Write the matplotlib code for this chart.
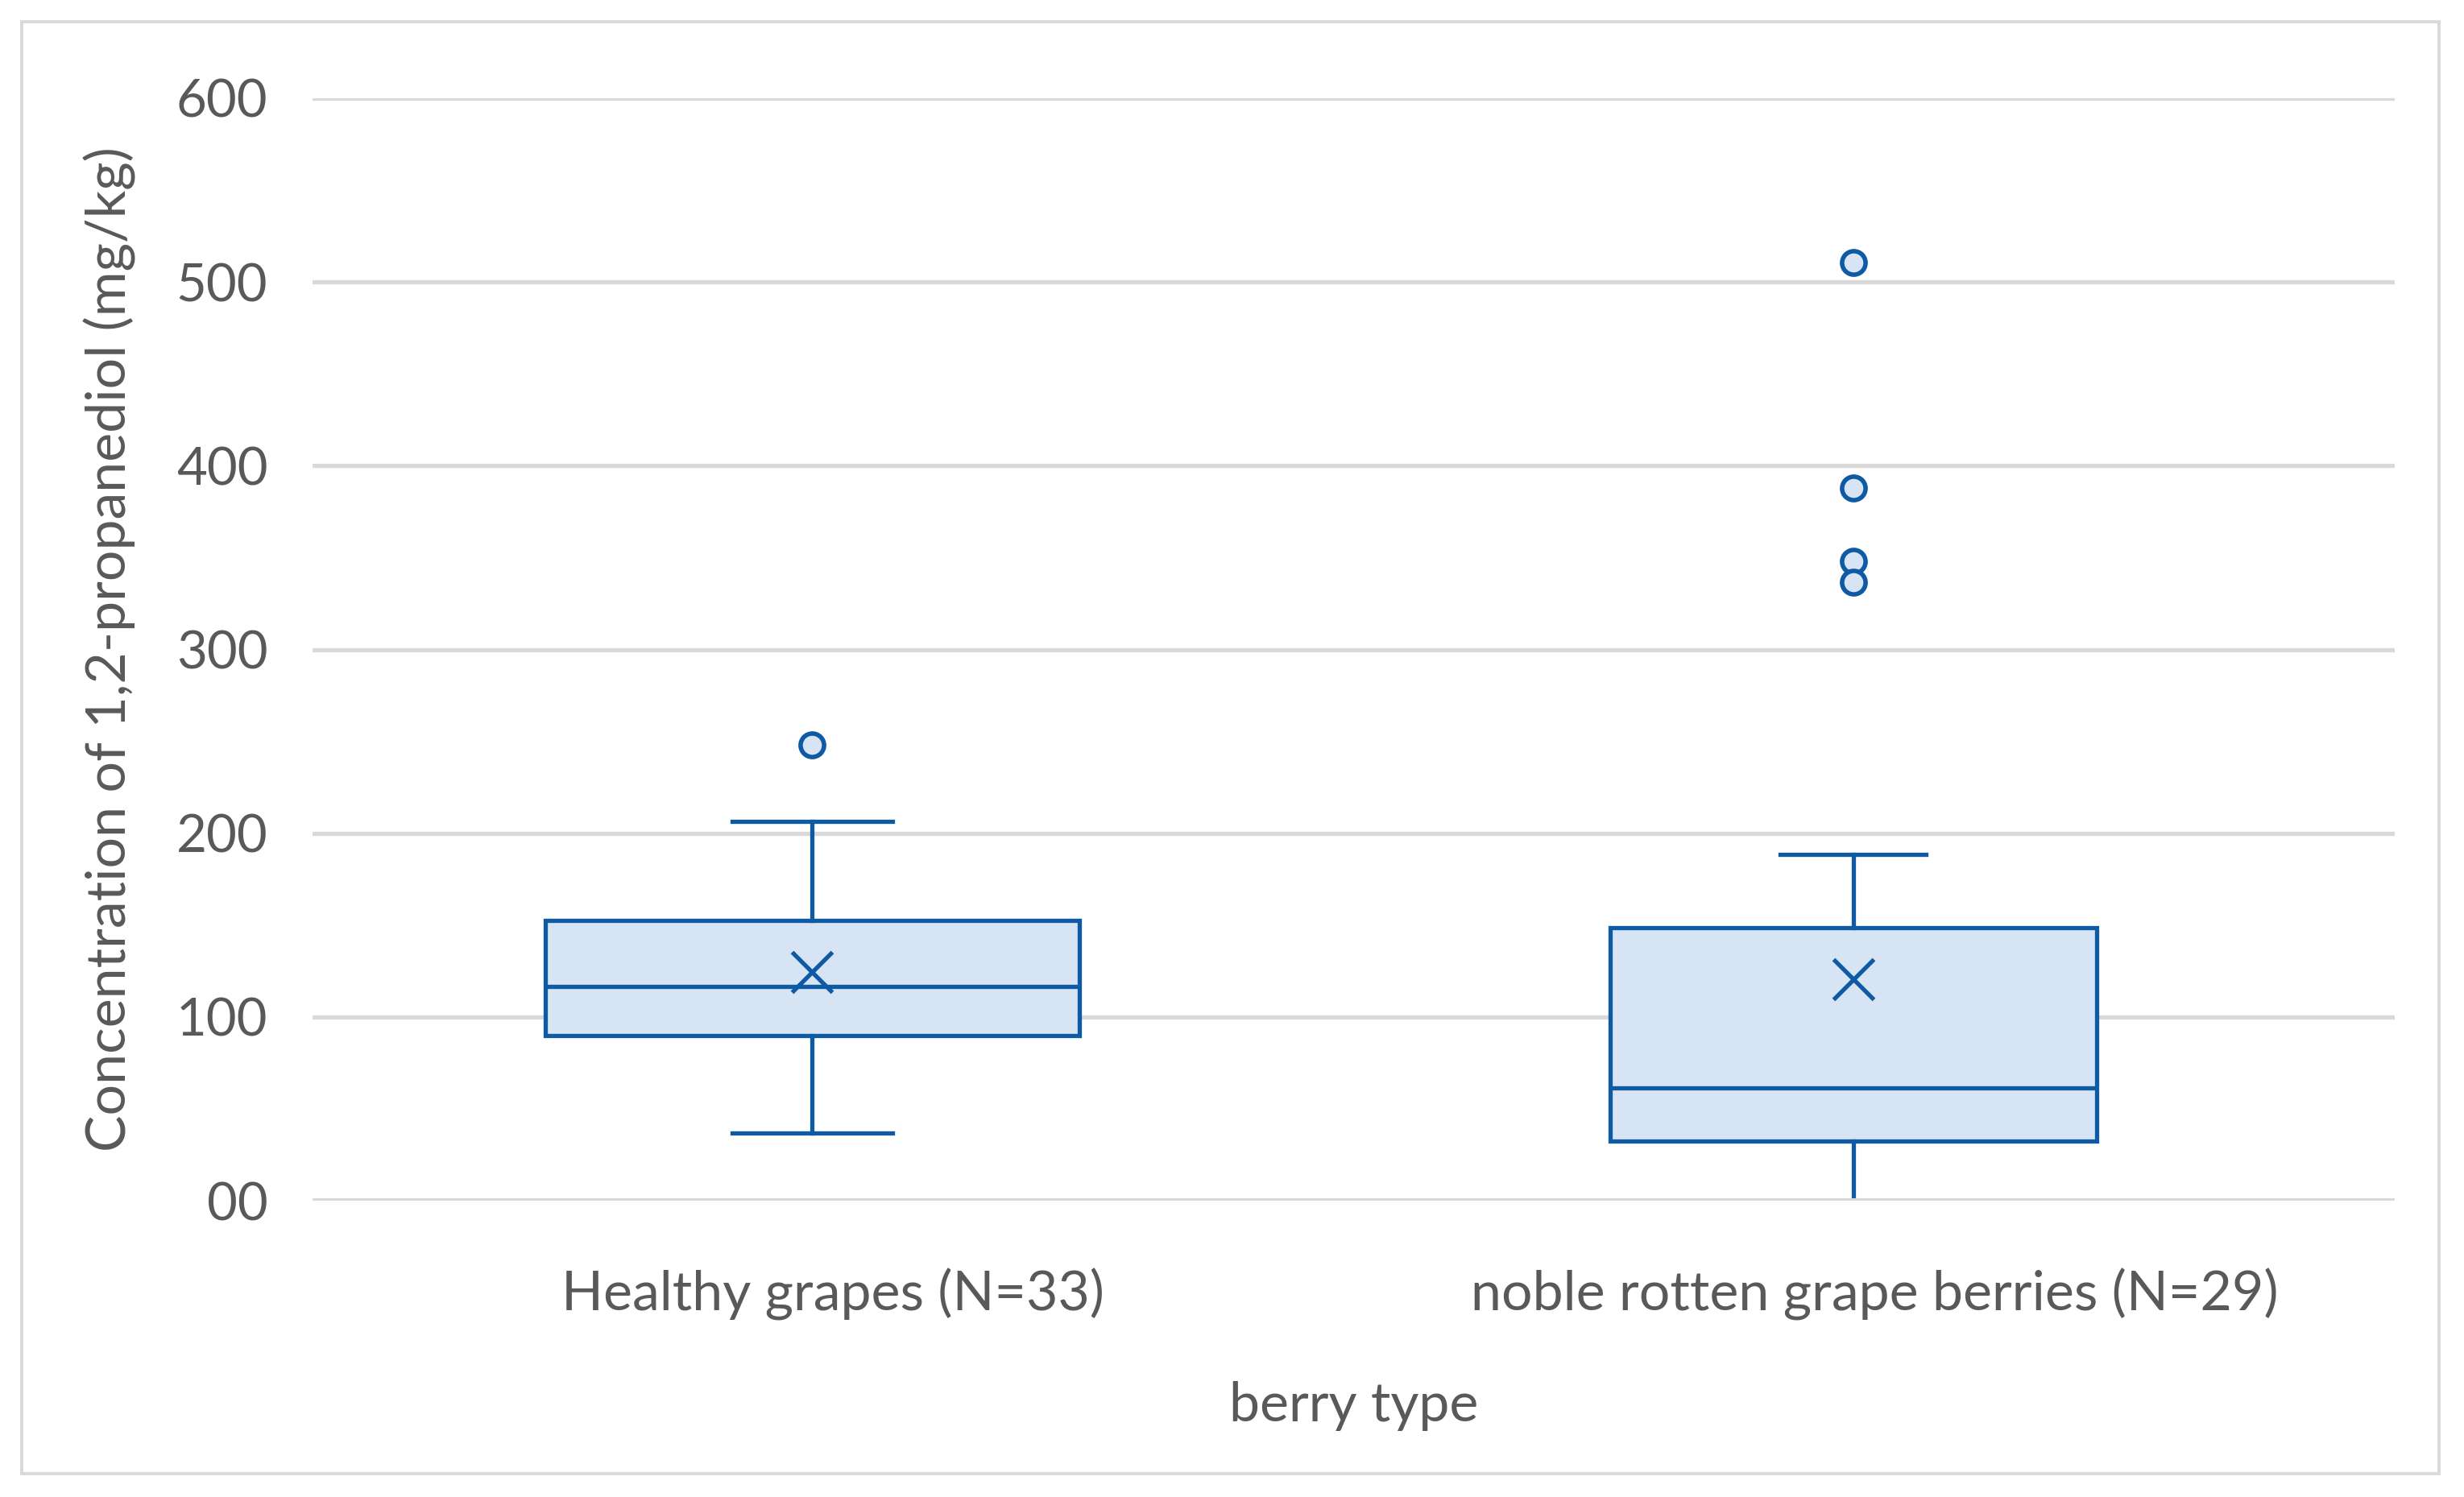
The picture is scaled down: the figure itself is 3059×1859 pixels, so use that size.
import matplotlib
matplotlib.use("Agg")
import matplotlib.pyplot as plt
from matplotlib.patches import Rectangle

categories = ["Healthy grapes (N=33)", "noble rotten grape berries (N=29)"]
medians = [116.5, 61.3]
q1s = [89.9, 32.4]
q3s = [152.5, 148.4]
whis_lo = [36.7, 0.0]
whis_hi = [206.6, 188.6]
means = [124.6, 120.5]
outliers = [[248.0], [510.7, 388.0, 348.0, 336.7]]
yticks = [0, 100, 200, 300, 400, 500, 600]
ytick_labels = ["00", "100", "200", "300", "400", "500", "600"]

EDGE = "#0F5AA4"
FILL = "#D7E4F4"
GRID = "#D9D9D9"
TXT = "#595959"

plt.rcParams['font.family'] = ['Lato', 'DejaVu Sans']

fig = plt.figure(figsize=(15.295, 9.295), dpi=200)
ax = fig.add_axes([388/3059, 1 - 1491/1859, (2973-388)/3059, (1491-122)/1859])

stats = []
for i in range(len(categories)):
    stats.append(dict(med=medians[i], q1=q1s[i], q3=q3s[i], whislo=whis_lo[i],
                      whishi=whis_hi[i], mean=means[i], fliers=outliers[i]))

positions = [0.48, 1.48]
widths = [0.513, 0.467]
lw = 1.9
ax.bxp(stats, positions=positions, widths=widths, capwidths=[w*0.3 for w in widths],
       showmeans=True, patch_artist=True,
       boxprops=dict(facecolor=FILL, edgecolor=EDGE, linewidth=lw),
       medianprops=dict(color=EDGE, linewidth=lw),
       whiskerprops=dict(color=EDGE, linewidth=lw),
       capprops=dict(color=EDGE, linewidth=lw),
       meanprops=dict(marker='x', markeredgecolor=EDGE, markersize=18, markeredgewidth=lw),
       flierprops=dict(marker='o', markerfacecolor=FILL, markeredgecolor=EDGE,
                       markersize=10.5, markeredgewidth=2.0),
       zorder=3)

ax.set_xlim(0, 2)
ax.set_ylim(0, 600)
ax.set_xticks([0.5, 1.5])
ax.set_xticklabels(categories)
ax.set_yticks(yticks)
ax.set_yticklabels(ytick_labels)
ax.tick_params(axis='y', length=0, labelsize=23.5, colors=TXT, pad=20)
ax.tick_params(axis='x', length=0, labelsize=24.5, colors=TXT, pad=30)
ax.grid(axis='y', color=GRID, linewidth=1.9, zorder=0)
ax.set_axisbelow(True)
for s in ax.spines.values():
    s.set_visible(False)
# horizontal category axis line drawn on top (as in the reference)
ax.axhline(0, color=GRID, linewidth=2.2, zorder=5)

ax.set_ylabel("Concentration of 1,2-propanediol (mg/kg)", fontsize=24.5, color=TXT, labelpad=18)
ax.set_xlabel("berry type", fontsize=24.5, color=TXT, labelpad=27)

fig.patches.append(Rectangle((27/3059, 1 - 1830/1859), (3028-27)/3059, (1830-27)/1859,
                             transform=fig.transFigure, fill=False, edgecolor=GRID,
                             linewidth=1.4, zorder=0))

fig.savefig("out.png", dpi=200)
